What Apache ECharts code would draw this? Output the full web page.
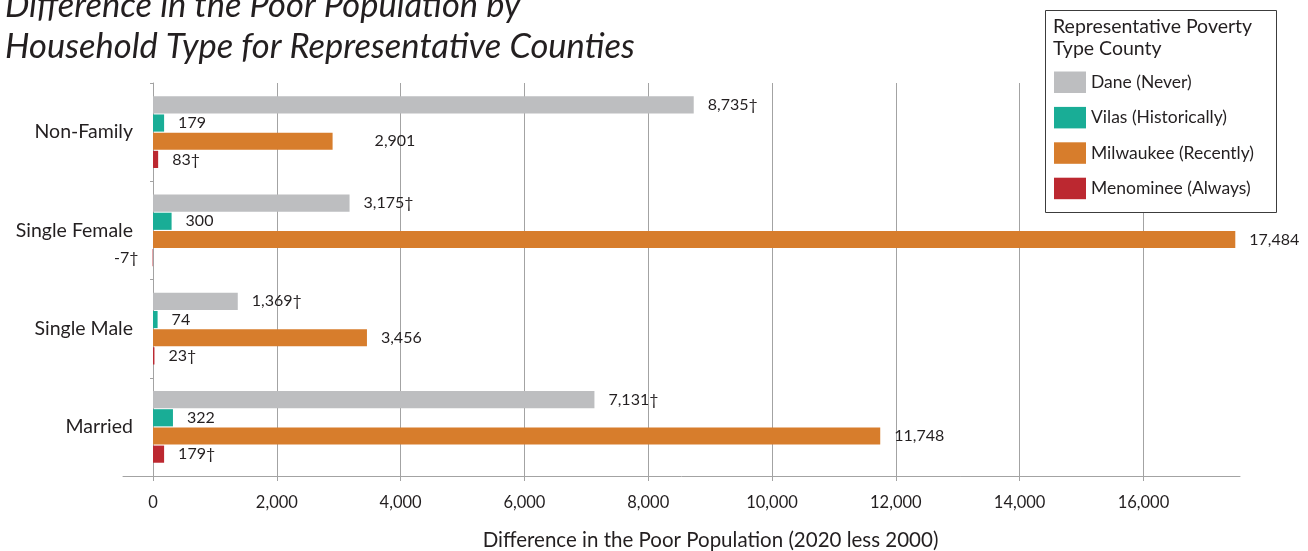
<!DOCTYPE html>
<html>
<head>
<meta charset="utf-8">
<script src="https://cdn.jsdelivr.net/npm/echarts@6/dist/echarts.min.js"></script>
<style>
  html, body { margin: 0; padding: 0; background: #ffffff; }
  #chart { width: 1308px; height: 551px; }
</style>
</head>
<body>
<div id="chart"></div>
<script>
// Household types, listed top to bottom
const householdTypes = ['Non-Family', 'Single Female', 'Single Male', 'Married'];

// Representative counties (legend entries)
const countyNames = ['Dane (Never)', 'Vilas (Historically)', 'Milwaukee (Recently)', 'Menominee (Always)'];

// Change in the poor population, 2020 less 2000
const daneValues      = [8735, 3175, 1369, 7131];
const vilasValues     = [179, 300, 74, 322];
const milwaukeeValues = [2901, 17484, 3456, 11748];
const menomineeValues = [83, -7, 23, 179];

// Counties whose figures carry the dagger note
const daggerNote = [true, false, false, true];

// Value axis range and tick labels
const xMin = -485;
const xMax = 17560;
const xTicks = [0, 2000, 4000, 6000, 8000, 10000, 12000, 14000, 16000];

const FONT = 'Lato';
const TEXT = '#231F20';
const colors = ['#BDBEC0', '#19AD96', '#D77D2C', '#BC2830'];
const valueSets = [daneValues, vilasValues, milwaukeeValues, menomineeValues];

const fmt = v => Number(v).toLocaleString('en-US');

const series = valueSets.map((vals, i) => ({
  name: countyNames[i],
  type: 'bar',
  barGap: '6%',
  barCategoryGap: '27%',
  itemStyle: { color: colors[i] },
  label: {
    show: true,
    position: 'right',
    distance: 14,
    color: TEXT,
    fontFamily: FONT,
    fontSize: 16,
    formatter: p => fmt(p.value) + (daggerNote[i] ? '\u2020' : '')
  },
  data: vals.map((v, j) => {
    const item = { value: v };
    if (v < 0) item.label = { position: 'left' };
    // the Milwaukee non-family label sits further out from its bar
    if (i === 2 && j === 0) item.label = { distance: 42 };
    return item;
  })
}));

const chart = echarts.init(document.getElementById('chart'), null, { renderer: 'canvas' });

chart.setOption({
  animation: false,
  backgroundColor: '#ffffff',
  title: {
    text: 'Difference in the Poor Population by\nHousehold Type for Representative Counties',
    left: 0,
    top: -20,
    textStyle: {
      fontFamily: FONT,
      fontStyle: 'italic',
      fontWeight: 'normal',
      fontSize: 34.5,
      lineHeight: 41,
      color: TEXT
    }
  },
  legend: {
    orient: 'vertical',
    left: 1054,
    top: 71.5,
    padding: 0,
    itemWidth: 32,
    itemHeight: 21.5,
    itemGap: 13.9,
    icon: 'rect',
    selectedMode: false,
    z: 6,
    textStyle: { fontFamily: FONT, fontSize: 17.5, color: TEXT },
    data: countyNames
  },
  graphic: [
    {
      type: 'rect',
      z: 5,
      shape: { x: 1045.5, y: 10.5, width: 231, height: 202 },
      style: { fill: '#ffffff', stroke: '#3C3C3C', lineWidth: 1 }
    },
    {
      type: 'text',
      z: 6,
      x: 1053,
      y: 16,
      style: {
        text: 'Representative Poverty\nType County',
        font: '19.5px ' + FONT,
        lineHeight: 22,
        fill: TEXT
      }
    }
  ],
  grid: {
    left: 123,
    right: 68,
    top: 83,
    bottom: 75,
    containLabel: false,
    outerBoundsMode: 'none'
  },
  xAxis: {
    type: 'value',
    min: xMin,
    max: xMax,
    name: 'Difference in the Poor Population (2020 less 2000)',
    nameLocation: 'middle',
    nameGap: 54,
    nameTextStyle: { fontFamily: FONT, fontSize: 20.5, color: TEXT, padding: [0, 0, 0, 58] },
    axisLine: { show: true, onZero: false, lineStyle: { color: '#A3A3A3', width: 1 } },
    axisTick: { show: true, length: 5, customValues: xTicks, lineStyle: { color: '#A3A3A3' } },
    axisLabel: {
      customValues: xTicks,
      margin: 18,
      fontFamily: FONT,
      fontSize: 16.5,
      color: TEXT,
      formatter: v => fmt(v)
    },
    splitLine: { show: true, lineStyle: { color: '#A3A3A3', width: 1 } }
  },
  yAxis: {
    type: 'category',
    inverse: true,
    data: householdTypes,
    axisLine: { show: true, onZero: true, lineStyle: { color: '#A3A3A3', width: 1 } },
    axisTick: { show: true, length: 3, lineStyle: { color: '#A3A3A3' } },
    axisLabel: { margin: -10, fontFamily: FONT, fontSize: 19.5, color: TEXT }
  },
  series: series
});
</script>
</body>
</html>
